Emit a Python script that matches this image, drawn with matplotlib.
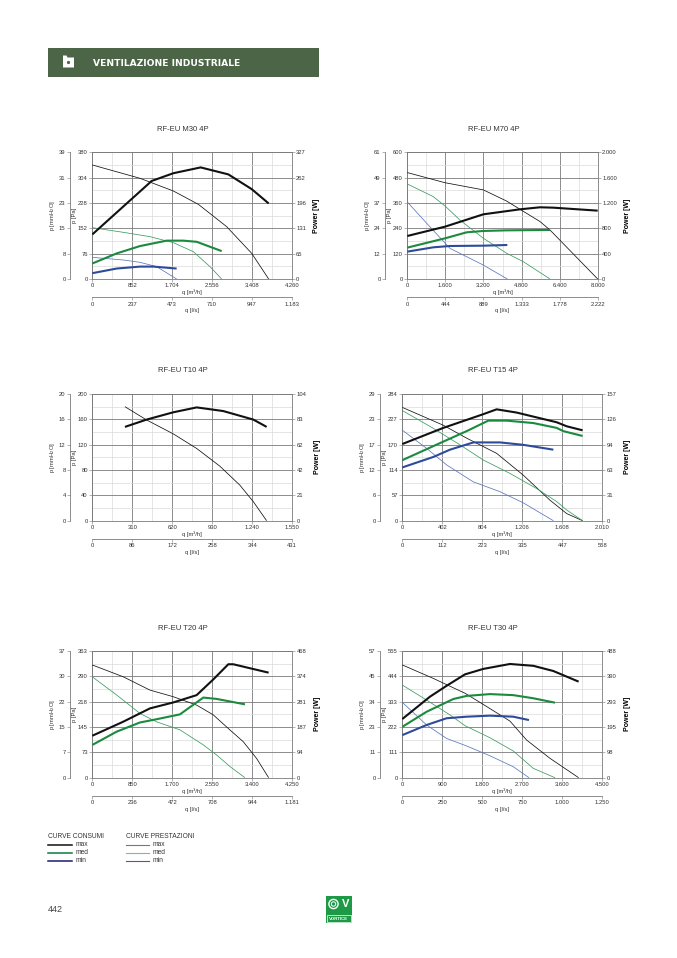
import numpy as np
import matplotlib.pyplot as plt
from matplotlib.lines import Line2D
from matplotlib.patches import Rectangle, Polygon, Circle

plt.rcParams['font.family'] = ['Liberation Sans', 'DejaVu Sans']
plt.rcParams['mathtext.default'] = 'regular'

W, H = 677, 958

# ---- dati ----
# RF-EU M30 4P
m30_q_wmax = [0, 1268, 1731, 2315, 2906, 3405, 3768]
m30_w_max = [115, 253, 273, 288, 270, 232, 195]
m30_q_pmax = [0, 1019, 1731, 2265, 2871, 3405, 3768]
m30_p_max = [342, 302, 264, 224, 157, 77, 0]
m30_q_wmed = [0, 520, 1019, 1589, 1945, 2230, 2764]
m30_w_med = [40, 66, 85, 99, 99, 96, 72]
m30_q_pmed = [0, 662, 1232, 1731, 2158, 2515, 2764]
m30_p_med = [154, 140, 127, 109, 82, 37, 0]
m30_q_wmin = [0, 520, 1019, 1304, 1802]
m30_w_min = [15, 27, 32, 32, 27]
m30_q_pmin = [0, 662, 1019, 1375, 1802]
m30_p_min = [65, 57, 50, 37, 0]

# RF-EU M70 4P
m70_q_wmax = [0, 1583, 3194, 4736, 5576, 6137, 8000]
m70_w_max = [679, 826, 1021, 1100, 1132, 1126, 1079]
m70_q_pmax = [0, 1583, 3194, 4175, 4736, 5576, 5996, 8000]
m70_p_max = [504, 456, 422, 369, 330, 272, 232, 0]
m70_q_wmed = [0, 1583, 2494, 3194, 4175, 5996]
m70_w_med = [495, 642, 737, 758, 768, 774]
m70_q_pmed = [0, 1093, 1583, 2214, 3194, 4175, 4876, 5996]
m70_p_med = [450, 390, 346, 279, 193, 122, 82, 0]
m70_q_wmin = [0, 1093, 1793, 3194, 4203]
m70_w_min = [432, 500, 521, 526, 537]
m70_q_pmin = [0, 813, 1793, 3194, 4203]
m70_p_min = [365, 264, 145, 66, 0]

# RF-EU T10 4P
t10_q_wmax = [253, 421, 628, 809, 1015, 1248, 1351]
t10_w_max = [77, 83, 89, 93, 90, 83, 77]
t10_q_pmax = [253, 421, 628, 809, 989, 1144, 1248, 1351]
t10_p_max = [180, 159, 137, 114, 86, 56, 30, 0]

# RF-EU T15 4P
t15_q_wmax = [0, 412, 814, 948, 1149, 1350, 1551, 1652, 1812]
t15_w_max = [95, 115, 132, 138, 134, 128, 122, 117, 112]
t15_q_pmax = [0, 412, 647, 948, 1216, 1484, 1652, 1812]
t15_p_max = [254, 214, 185, 151, 102, 46, 16, 0]
t15_q_wmed = [0, 412, 647, 864, 1049, 1317, 1551, 1618, 1812]
t15_w_med = [75, 98, 111, 124, 124, 121, 115, 111, 105]
t15_q_pmed = [0, 312, 580, 814, 1082, 1350, 1551, 1652, 1812]
t15_p_med = [247, 207, 170, 136, 106, 72, 43, 24, 0]
t15_q_wmin = [0, 312, 479, 714, 982, 1216, 1518]
t15_w_min = [66, 79, 88, 97, 97, 94, 88]
t15_q_pmin = [0, 245, 446, 714, 982, 1216, 1518]
t15_p_min = [203, 162, 125, 87, 65, 40, 0]

# RF-EU T20 4P
t20_q_wmax = [0, 659, 1225, 1721, 2217, 2571, 2890, 2996, 3747]
t20_w_max = [155, 207, 256, 278, 305, 363, 419, 419, 388]
t20_q_pmax = [0, 659, 1225, 1721, 2217, 2571, 2890, 3209, 3492, 3747]
t20_p_max = [323, 289, 251, 232, 208, 180, 141, 103, 55, 0]
t20_q_wmed = [0, 517, 1013, 1367, 1863, 2359, 2642, 3244]
t20_w_med = [121, 170, 204, 216, 234, 296, 291, 271]
t20_q_pmed = [0, 517, 1013, 1367, 1863, 2359, 2642, 2925, 3244]
t20_p_med = [289, 237, 184, 160, 137, 94, 65, 32, 0]

# RF-EU T30 4P
t30_q_wmax = [0, 622, 997, 1410, 1822, 2422, 2947, 3397, 3967]
t30_w_max = [226, 312, 354, 398, 419, 438, 431, 411, 370]
t30_q_pmax = [0, 697, 1410, 1822, 2422, 2797, 3322, 3967]
t30_p_max = [494, 435, 370, 321, 248, 165, 85, 0]
t30_q_wmed = [0, 547, 1147, 1447, 1972, 2497, 2947, 3435]
t30_w_med = [196, 254, 303, 315, 322, 318, 306, 289]
t30_q_pmed = [0, 547, 1072, 1410, 1972, 2497, 2947, 3435]
t30_p_med = [406, 340, 275, 228, 175, 117, 41, 0]
t30_q_wmin = [0, 547, 997, 1447, 1972, 2497, 2850]
t30_w_min = [164, 203, 229, 235, 239, 235, 222]
t30_q_pmin = [0, 547, 997, 1447, 1972, 2497, 2850]
t30_p_min = [330, 231, 172, 139, 96, 48, 0]

# colori
C_BLACK = '#111111'
C_GREEN = '#1b8a3f'
C_GREEN_T = '#3a9c5f'
C_BLUE = '#2e4b9b'
C_BLUE_T = '#5b77bd'
GRID = '#7a7a7a'
GRID_MIN = '#dadada'
TXT = '#333333'
FS = 4.2


def px_rect(x0, y0, x1, y1):
    return [x0 / W, 1 - y1 / H, (x1 - x0) / W, (y1 - y0) / H]


def fmt(v):
    return f"{int(round(v)):,}".replace(",", ".")


def draw_chart(rect, title, q_max, ls_ticks, pa_ticks, mm_ticks, w_ticks, curves):
    ax = fig.add_axes(px_rect(*rect))
    pa_max = pa_ticks[-1]
    ax.set_xlim(0, q_max)
    ax.set_ylim(0, pa_max)
    xt = np.linspace(0, q_max, 6)
    yt = np.linspace(0, pa_max, 6)
    ax.set_xticks(xt)
    ax.set_xticklabels([fmt(v) for v in xt])
    ax.set_yticks(yt)
    ax.set_yticklabels([str(v) for v in pa_ticks])
    ax.set_xticks((xt[:-1] + xt[1:]) / 2, minor=True)
    ax.set_yticks((yt[:-1] + yt[1:]) / 2, minor=True)
    ax.grid(which='major', color=GRID, lw=0.6, zorder=0)
    ax.grid(which='minor', color=GRID_MIN, lw=0.5, zorder=0)
    ax.tick_params(which='minor', length=0)
    ax.tick_params(which='major', labelsize=FS, length=2, width=0.4, pad=1.2,
                   color=GRID, labelcolor=TXT)
    for s in ax.spines.values():
        s.set_color(GRID)
        s.set_linewidth(0.6)
    ax.set_xlabel('q [m³/h]', fontsize=FS, color=TXT, labelpad=0.5)
    ax.set_ylabel('p [Pa]', fontsize=FS, color=TXT, labelpad=1)

    # power
    axp = ax.twinx()
    w_max = w_ticks[-1]
    axp.set_ylim(0, w_max)
    axp.set_yticks(np.linspace(0, w_max, 6))
    axp.set_yticklabels([fmt(v) for v in w_ticks])
    axp.tick_params(labelsize=FS, length=2, width=0.4, pad=1.2, color=GRID, labelcolor=TXT)
    for s in axp.spines.values():
        s.set_visible(False)
    axp.set_ylabel('Power [W]', fontsize=5, fontweight='bold', labelpad=5)

    # mmH2O
    axm = ax.twinx()
    axm.set_ylim(0, 1)
    axm.set_yticks(np.linspace(0, 1, 6))
    axm.set_yticklabels([str(v) for v in mm_ticks])
    for k in ('right', 'top', 'bottom'):
        axm.spines[k].set_visible(False)
    axm.spines['left'].set_visible(True)
    axm.spines['left'].set_position(('outward', 16))
    axm.spines['left'].set_color(GRID)
    axm.spines['left'].set_linewidth(0.6)
    axm.yaxis.tick_left()
    axm.yaxis.set_label_position('left')
    axm.tick_params(labelsize=FS, length=2, width=0.4, pad=1.2, color=GRID, labelcolor=TXT)
    axm.set_ylabel(r'p [mmH$_2$O]', fontsize=FS, color=TXT, labelpad=1.5)

    # l/s
    axl = ax.twiny()
    axl.set_xlim(0, 1)
    axl.set_xticks(np.linspace(0, 1, 6))
    axl.set_xticklabels([fmt(v) for v in ls_ticks])
    for k in ('right', 'top', 'left'):
        axl.spines[k].set_visible(False)
    axl.spines['bottom'].set_visible(True)
    axl.spines['bottom'].set_position(('outward', 13))
    axl.spines['bottom'].set_color(GRID)
    axl.spines['bottom'].set_linewidth(0.6)
    axl.xaxis.tick_bottom()
    axl.xaxis.set_label_position('bottom')
    axl.tick_params(labelsize=FS, length=2, width=0.4, pad=1.2, color=GRID, labelcolor=TXT)
    axl.set_xlabel('q [l/s]', fontsize=FS, color=TXT, labelpad=1)

    for kind, xs, ys, color, lw in curves:
        target = axp if kind == 'w' else ax
        target.plot(xs, ys, color=color, lw=lw, solid_capstyle='butt', zorder=3)

    fig.text((rect[0] + rect[2]) / 2 / W - 9 / W, 1 - (rect[1] - 23) / H, title,
             ha='center', va='center', fontsize=5.5, color=TXT)


fig = plt.figure(figsize=(W / 100, H / 100), dpi=100)

TH = 1.5
TN = 0.55

draw_chart((92.3, 152.3, 291.7, 279), 'RF-EU M30 4P', 4260,
           [0, 237, 473, 710, 947, 1183], [0, 76, 152, 228, 304, 380],
           [0, 8, 15, 23, 31, 39], [0, 65, 131, 196, 262, 327],
           [('p', m30_q_pmax, m30_p_max, C_BLACK, TN),
            ('p', m30_q_pmed, m30_p_med, C_GREEN_T, TN),
            ('p', m30_q_pmin, m30_p_min, C_BLUE_T, TN),
            ('w', m30_q_wmax, m30_w_max, C_BLACK, TH),
            ('w', m30_q_wmed, m30_w_med, C_GREEN, TH),
            ('w', m30_q_wmin, m30_w_min, C_BLUE, TH)])

draw_chart((407.3, 152.3, 597.7, 279), 'RF-EU M70 4P', 8000,
           [0, 444, 889, 1333, 1778, 2222], [0, 120, 240, 360, 480, 600],
           [0, 12, 24, 37, 49, 61], [0, 400, 800, 1200, 1600, 2000],
           [('p', m70_q_pmax, m70_p_max, C_BLACK, TN),
            ('p', m70_q_pmed, m70_p_med, C_GREEN_T, TN),
            ('p', m70_q_pmin, m70_p_min, C_BLUE_T, TN),
            ('w', m70_q_wmax, m70_w_max, C_BLACK, TH),
            ('w', m70_q_wmed, m70_w_med, C_GREEN, TH),
            ('w', m70_q_wmin, m70_w_min, C_BLUE, TH)])

draw_chart((92.3, 394, 292.3, 520.7), 'RF-EU T10 4P', 1550,
           [0, 86, 172, 258, 344, 431], [0, 40, 80, 120, 160, 200],
           [0, 4, 8, 12, 16, 20], [0, 21, 42, 62, 83, 104],
           [('p', t10_q_pmax, t10_p_max, C_BLACK, TN),
            ('w', t10_q_wmax, t10_w_max, C_BLACK, TH)])

draw_chart((402.3, 394, 602.3, 520.7), 'RF-EU T15 4P', 2010,
           [0, 112, 223, 335, 447, 558], [0, 57, 114, 170, 227, 284],
           [0, 6, 12, 17, 23, 29], [0, 31, 63, 94, 126, 157],
           [('p', t15_q_pmax, t15_p_max, C_BLACK, TN),
            ('p', t15_q_pmed, t15_p_med, C_GREEN_T, TN),
            ('p', t15_q_pmin, t15_p_min, C_BLUE_T, TN),
            ('w', t15_q_wmax, t15_w_max, C_BLACK, TH),
            ('w', t15_q_wmed, t15_w_med, C_GREEN, TH),
            ('w', t15_q_wmin, t15_w_min, C_BLUE, TH)])

draw_chart((92.3, 651, 292.3, 777.7), 'RF-EU T20 4P', 4250,
           [0, 236, 472, 708, 944, 1181], [0, 73, 145, 218, 290, 363],
           [0, 7, 15, 22, 30, 37], [0, 94, 187, 281, 374, 468],
           [('p', t20_q_pmax, t20_p_max, C_BLACK, TN),
            ('p', t20_q_pmed, t20_p_med, C_GREEN_T, TN),
            ('w', t20_q_wmax, t20_w_max, C_BLACK, TH),
            ('w', t20_q_wmed, t20_w_med, C_GREEN, TH)])

draw_chart((402.3, 651, 602.3, 777.7), 'RF-EU T30 4P', 4500,
           [0, 250, 500, 750, 1000, 1250], [0, 111, 222, 333, 444, 555],
           [0, 11, 23, 34, 45, 57], [0, 98, 195, 293, 390, 488],
           [('p', t30_q_pmax, t30_p_max, C_BLACK, TN),
            ('p', t30_q_pmed, t30_p_med, C_GREEN_T, TN),
            ('p', t30_q_pmin, t30_p_min, C_BLUE_T, TN),
            ('w', t30_q_wmax, t30_w_max, C_BLACK, TH),
            ('w', t30_q_wmed, t30_w_med, C_GREEN, TH),
            ('w', t30_q_wmin, t30_w_min, C_BLUE, TH)])

# ---- intestazione ----
page = fig.add_axes([0, 0, 1, 1], zorder=-1)
page.set_xlim(0, W)
page.set_ylim(H, 0)
page.axis('off')
page.add_patch(Rectangle((48, 48), 271, 29, color='#4b6546', lw=0))
page.add_patch(Polygon([(63, 55.5), (66.5, 55.5), (67.5, 57.5), (74, 57.5), (74, 67.5), (63, 67.5)],
                       closed=True, color='white', lw=0))
page.add_patch(Circle((68.5, 62.5), 1.6, color='#4b6546', lw=0))
page.text(93, 63, 'VENTILAZIONE INDUSTRIALE', color='white', fontsize=6.6,
          fontweight='bold', va='center', ha='left', family=['DejaVu Sans'])

# ---- legenda ----
page.text(48, 836, 'CURVE CONSUMI', fontsize=4.8, color=TXT, va='center')
page.text(126, 836, 'CURVE PRESTAZIONI', fontsize=4.8, color=TXT, va='center')
leg_cons = ['#111111', '#0c7a42', '#1d1d70']
leg_prest = ['#777777', '#72c094', '#5a5a80']
for i, name in enumerate(['max', 'med', 'min']):
    y = 844.5 + 8 * i
    page.add_line(Line2D([48, 72], [y, y], color=leg_cons[i], lw=1.1))
    page.text(76, y, name, fontsize=4.8, color=TXT, va='center')
    page.add_line(Line2D([126, 149], [y, y], color=leg_prest[i], lw=0.8))
    page.text(153, y, name, fontsize=4.8, color=TXT, va='center')

# ---- piede pagina ----
page.text(48, 910, '442', fontsize=6.5, color='#444444', va='center')
page.add_patch(Rectangle((326, 896), 26, 27, color='#1e9a46', lw=0))
page.add_patch(Circle((333.5, 904), 4.6, fill=False, ec='white', lw=1.0))
page.add_patch(Circle((333.5, 904), 2.2, fill=False, ec='white', lw=0.7))
page.text(345.5, 904, 'V', fontsize=8, fontweight='bold', color='white', ha='center', va='center')
page.add_patch(Rectangle((327, 915), 24, 7, fill=False, ec='white', lw=0.5))
page.text(339, 918.6, 'VORTICE', fontsize=3.2, fontweight='bold', color='white', ha='center', va='center')

fig.savefig('out.png', dpi=100)
